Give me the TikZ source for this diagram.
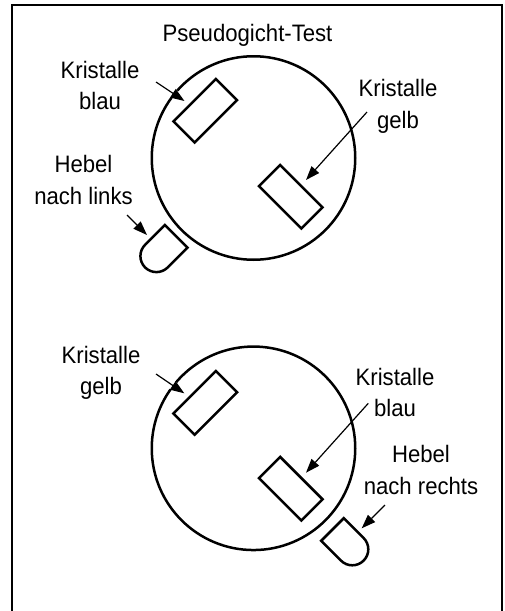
\documentclass[tikz,border=0pt]{standalone}
\usepackage{fontspec}
\setmainfont{Liberation Sans}
\newfontfamily\labelfont[FakeStretch=0.93]{Liberation Sans}
\usetikzlibrary{arrows.meta,calc}
\begin{document}
\begin{tikzpicture}[x=1pt,y=-1pt,
  lbl/.style={font=\labelfont\fontsize{23.8}{31.5}\selectfont, align=center, anchor=base, inner sep=0pt},
  disc/.style={circle, draw, line width=2.5pt, minimum size=203.5pt, inner sep=0pt},
  crystal/.style={draw, line width=2.5pt, minimum width=60pt, minimum height=30pt, inner sep=0pt},
  pointer/.style={-{Triangle[length=14pt,width=10pt]}, line width=1.2pt},
  halo/.style={white, line width=9pt},
  lever/.style={draw, line width=2.5pt, line join=miter}
]
\useasboundingbox (0,0) rectangle (505,611);
% frame (open at the bottom)
\draw[line width=2.4pt] (12,611) -- (12,5) -- (502,5) -- (502,611);

% ---------- upper test ----------
\node[lbl] (title) at (247.5,41) {Pseudogicht-Test};
\node[disc] (c1) at (253.5,158) {};
\draw[lever, shift={(176.2,236.3)}, rotate=225]
  (0,16) -- (0,-16) -- (28,-16) arc[start angle=-90, end angle=90, radius=16] -- cycle;

% anchor=base is the baseline of the last line
\node[lbl] (kb1) at (100,109.8) {Kristalle\\blau};
\node[lbl] (kg1) at (398,128) {Kristalle\\gelb};
\node[lbl] (hl1) at (83.5,204.2) {Hebel\\nach links};

\coordinate (kb1s) at (156,82);   \coordinate (kb1t) at (184.5,101);
\coordinate (kg1s) at (367,112);  \coordinate (kg1t) at (306,180);
\coordinate (hl1s) at (127,215);  \coordinate (hl1t) at (147,235);

\draw[halo] ($(kb1t)!18pt!(kb1s)$) -- (kb1t);

\node[crystal, rotate=45]  (r11) at (205.25,110.75) {};
\node[crystal, rotate=-45] (r12) at (290.75,196.75) {};

\draw[pointer] (kb1s) -- (kb1t);
\draw[pointer] (kg1s) -- (kg1t);
\draw[pointer] (hl1s) -- (hl1t);

% ---------- lower test ----------
\node[disc] (c2) at (253.5,448.3) {};
\draw[lever, shift={(332.5,529.5)}, rotate=-45]
  (0,16) -- (0,-16) -- (28,-16) arc[start angle=-90, end angle=90, radius=16] -- cycle;

\node[lbl] (kg2) at (101,394.8) {Kristalle\\gelb};
\node[lbl] (kb2) at (395,416.5) {Kristalle\\blau};
\node[lbl] (hr2) at (421,494.2) {Hebel\\nach rechts};

\coordinate (kg2s) at (156,374);    \coordinate (kg2t) at (184.3,393.3);
\coordinate (kb2s) at (368.3,403.3); \coordinate (kb2t) at (306,472.7);
\coordinate (hr2s) at (385,505);    \coordinate (hr2t) at (361.7,528.3);

\draw[halo] ($(kg2t)!18pt!(kg2s)$) -- (kg2t);

\node[crystal, rotate=45]  (r21) at (205.25,402.85) {};
\node[crystal, rotate=-45] (r22) at (290.75,488.7) {};

\draw[pointer] (kg2s) -- (kg2t);
\draw[pointer] (kb2s) -- (kb2t);
\draw[pointer] (hr2s) -- (hr2t);
\end{tikzpicture}
\end{document}
